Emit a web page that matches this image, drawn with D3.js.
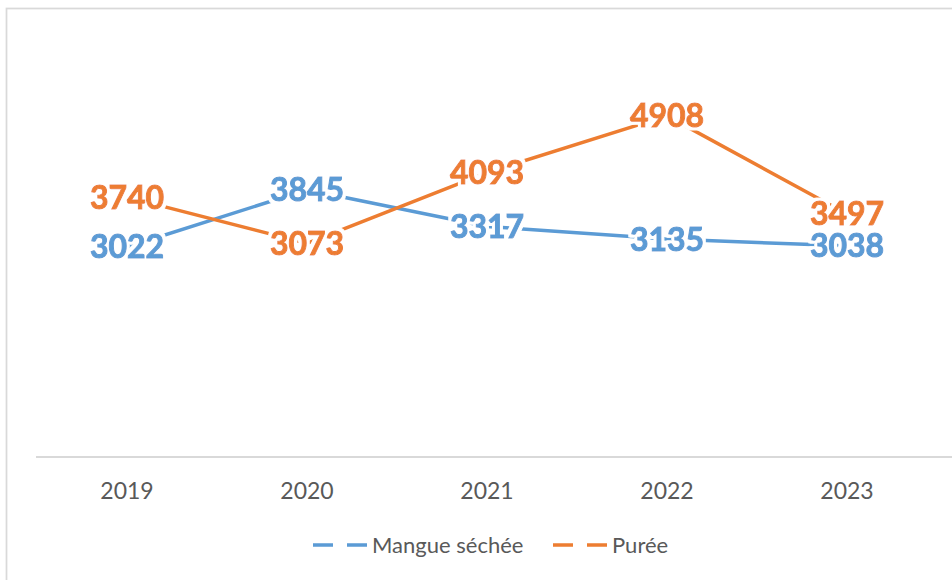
<!DOCTYPE html>
<html>
<head>
<meta charset="utf-8">
<script src="https://cdn.jsdelivr.net/npm/d3@7/dist/d3.min.js"></script>
<style>
  html, body { margin: 0; padding: 0; background: #fff; }
  svg { display: block; }
  text { font-family: Lato, "Open Sans", sans-serif; }
</style>
</head>
<body>
<svg id="chart" width="952" height="580"></svg>
<script>
const years = ["2019", "2020", "2021", "2022", "2023"];
const mangueSechee = [3022, 3845, 3317, 3135, 3038];
const puree = [3740, 3073, 4093, 4908, 3497];
const seriesNames = ["Mangue séchée", "Purée"];
const seriesColors = ["#5B9BD5", "#ED7D31"];

const series = [
  { name: seriesNames[0], values: mangueSechee, color: seriesColors[0] },
  { name: seriesNames[1], values: puree, color: seriesColors[1] }
];

const W = 952, H = 580;
const svg = d3.select("#chart");

// white knockout filter for data labels
const f = svg.append("defs").append("filter").attr("id", "halo")
  .attr("x", "-10%").attr("y", "-20%").attr("width", "120%").attr("height", "140%");
f.append("feMorphology").attr("in", "SourceAlpha").attr("operator", "dilate")
  .attr("radius", 2.5).attr("result", "d");
f.append("feFlood").attr("flood-color", "#fff").attr("result", "w");
f.append("feComposite").attr("in", "w").attr("in2", "d").attr("operator", "in").attr("result", "wh");
const m = f.append("feMerge");
m.append("feMergeNode").attr("in", "wh");
m.append("feMergeNode").attr("in", "SourceGraphic");

// chart border
svg.append("rect")
  .attr("x", 6.5).attr("y", 8.5)
  .attr("width", W + 20).attr("height", H + 20)
  .attr("fill", "none").attr("stroke", "#D9D9D9").attr("stroke-width", 1.75);

const x = d3.scaleBand().domain(years).range([37, 937]).padding(0);
const xc = d => x(d) + x.bandwidth() / 2;
const y = d3.scaleLinear().domain([0, 6000]).range([457, 40]);

// category axis line
svg.append("line")
  .attr("x1", x.range()[0] - 1).attr("x2", W)
  .attr("y1", y(0)).attr("y2", y(0))
  .attr("stroke", "#D9D9D9").attr("stroke-width", 2);

// axis labels
svg.append("g").selectAll("text").data(years).join("text")
  .attr("x", d => xc(d)).attr("y", 498.5)
  .attr("text-anchor", "middle")
  .attr("font-size", 23)
  .attr("fill", "#595959")
  .text(d => d);

const line = d3.line()
  .x((d, i) => xc(years[i]))
  .y(d => y(d));

// lines
svg.append("g").selectAll("path").data(series).join("path")
  .attr("d", s => line(s.values))
  .attr("fill", "none")
  .attr("stroke", s => s.color)
  .attr("stroke-width", 3.5)
  .attr("stroke-linejoin", "round");

// data labels
series.forEach(s => {
  svg.append("g").selectAll("text").data(s.values).join("text")
    .attr("x", (d, i) => xc(years[i]))
    .attr("y", d => y(d) + 11.5)
    .attr("text-anchor", "middle")
    .attr("font-size", 32)
    .attr("font-weight", 700)
    .attr("fill", s.color)
    .attr("stroke", s.color)
    .attr("stroke-width", 1)
    .attr("filter", "url(#halo)")
    .text(d => d);
});

// legend
const legendX = [313, 553];
const lg = svg.append("g").selectAll("g").data(series).join("g")
  .attr("transform", (s, i) => `translate(${legendX[i]},545)`);
lg.append("line")
  .attr("x1", 0).attr("x2", 54).attr("y1", 0).attr("y2", 0)
  .attr("stroke", s => s.color).attr("stroke-width", 3.5)
  .attr("stroke-dasharray", "20,14");
lg.append("text")
  .attr("x", 59).attr("y", 8)
  .attr("font-size", 22)
  .attr("fill", "#595959")
  .text(s => s.name);
</script>
</body>
</html>
